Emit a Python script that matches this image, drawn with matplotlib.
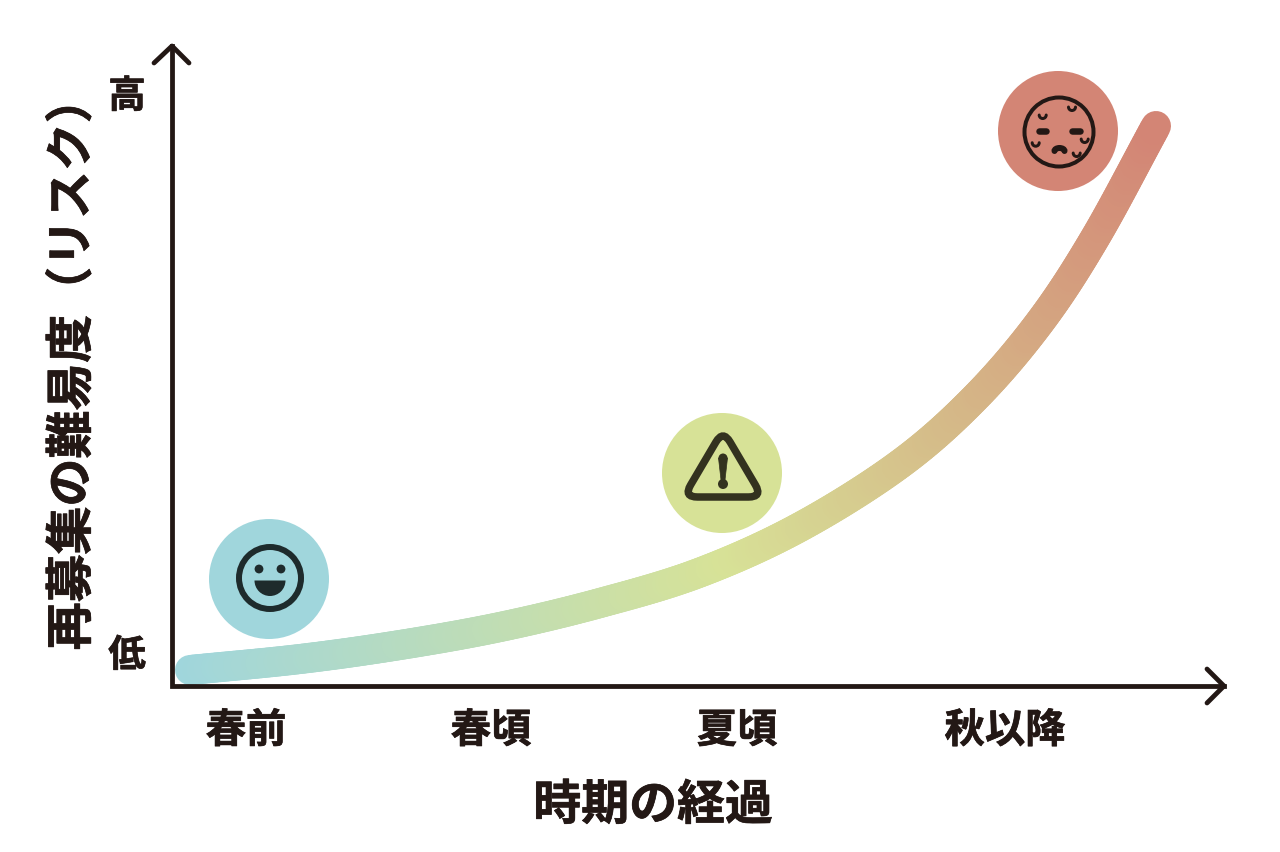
import matplotlib
matplotlib.use("Agg")
import matplotlib.pyplot as plt
import matplotlib.patheffects as pe
import numpy as np
from matplotlib.collections import LineCollection
from matplotlib.colors import LinearSegmentedColormap
from matplotlib.patches import Arc, Circle, PathPatch, Polygon, Wedge
from matplotlib.path import Path

plt.rcParams['font.family'] = ['Noto Sans CJK JP', 'DejaVu Sans']

# curve, in picture pixels
curve_x = [190, 300, 400, 500, 600, 700, 800, 900, 975, 1040, 1095, 1156]
curve_y = [670, 659, 645, 627, 603, 572.5, 527, 464, 398, 322, 238, 126]
curve_colors = ["#A0D6DC", "#D7E297", "#D38575"]

x_labels = ["春前", "春頃", "夏頃", "秋以降"]
x_label_pos = [246, 491, 737, 1005]
y_labels = ["低", "高"]
y_label_pos = [655, 96]
x_title = "時期の経過"
y_title = "再募集の難易度（リスク）"

INK = "#231815"


def px(w):
    return w * 72 / 100


def smooth(xv, yv, n=30):
    # catmull-rom through the read points, only so the band has no corners
    p = np.column_stack([xv, yv]).astype(float)
    p = np.vstack([2 * p[0] - p[1], p, 2 * p[-1] - p[-2]])
    out = []
    for i in range(1, len(p) - 2):
        t = np.linspace(0, 1, n, endpoint=False)[:, None]
        out.append(0.5 * (2 * p[i] + (p[i + 1] - p[i - 1]) * t
                          + (2 * p[i - 1] - 5 * p[i] + 4 * p[i + 1] - p[i + 2]) * t ** 2
                          + (3 * p[i] - p[i - 1] - 3 * p[i + 1] + p[i + 2]) * t ** 3))
    out.append(p[-2][None, :])
    return np.vstack(out)


def rounded_triangle(corners, cut):
    verts, codes = [], []
    c = np.array(corners, float)
    for i in range(3):
        v = c[i]
        prev = c[i - 1]
        nxt = c[(i + 1) % 3]
        a = v + (prev - v) / np.linalg.norm(prev - v) * cut
        b = v + (nxt - v) / np.linalg.norm(nxt - v) * cut
        verts += [a, v, b]
        codes += [Path.MOVETO if i == 0 else Path.LINETO, Path.CURVE3, Path.CURVE3]
    verts.append(verts[0])
    codes.append(Path.CLOSEPOLY)
    return Path(verts, codes)


fig = plt.figure(figsize=(12.8, 8.52), dpi=100)
ax = fig.add_axes([0, 0, 1, 1])
ax.set_xlim(0, 1280)
ax.set_ylim(852, 0)
ax.axis("off")

# gradient band
pts = smooth(curve_x, curve_y)
segs = np.stack([pts[:-1], pts[1:]], axis=1)
dist = np.r_[0, np.cumsum(np.hypot(*np.diff(pts, axis=0).T))]
frac = dist[:-1] / dist[-1]
cmap = LinearSegmentedColormap.from_list("risk", [(0, curve_colors[0]), (0.47, curve_colors[1]), (1, curve_colors[2])])
lc = LineCollection(segs, colors=cmap(frac), linewidths=px(30), capstyle="round", zorder=1)
ax.add_collection(lc)

# axes with arrows
ax.plot([172, 172, 1224], [46, 686, 686], color=INK, lw=px(4.8), solid_joinstyle="miter", zorder=3)
ax.plot([154, 172, 189], [63, 46, 63], color=INK, lw=px(4.8), solid_capstyle="round", zorder=3)
ax.plot([1207, 1224, 1207], [669, 686, 703], color=INK, lw=px(4.8), solid_capstyle="round", zorder=3)

# smile icon
SMILE = "#1E2B2C"
ax.add_patch(Circle((269, 579), 60, fc="#A0D6DC", ec="none"))
ax.add_patch(Circle((270, 578), 31, fc="none", ec=SMILE, lw=px(6)))
ax.add_patch(Circle((259, 569), 4.4, fc=SMILE, ec="none"))
ax.add_patch(Circle((281, 569), 4.4, fc=SMILE, ec="none"))
ax.add_patch(Wedge((270, 580.5), 15.5, 0, 180, fc=SMILE, ec="none"))

# warning icon
WARN = "#33321F"
ax.add_patch(Circle((722, 473), 60, fc="#D7E297", ec="none"))
ax.add_patch(PathPatch(rounded_triangle([(723, 430), (683.5, 497), (762.5, 497)], 14), fc="none", ec=WARN, lw=px(7.5)))
ax.add_patch(Polygon([(718.5, 458), (727.5, 458), (725, 480), (721, 480)], closed=True, fc=WARN, ec=WARN, lw=0.5))
ax.add_patch(Circle((723, 458), 4.5, fc=WARN, ec="none"))
ax.add_patch(Circle((723, 484), 5, fc=WARN, ec="none"))

# tired face icon
FACE = "#231815"
ax.add_patch(Circle((1058, 131), 60, fc="#D38575", ec="none"))
ax.add_patch(Circle((1059, 132), 34.5, fc="none", ec=FACE, lw=px(4)))
ax.plot([1039, 1046], [131, 131], color=FACE, lw=px(6.5), solid_capstyle="round")
ax.plot([1072, 1080], [131, 131], color=FACE, lw=px(6.5), solid_capstyle="round")
ax.add_patch(Arc((1059.5, 151), 10, 6, theta1=180, theta2=360, ec=FACE, lw=px(6), capstyle="round"))
for ux, uy in [(1042.7, 115), (1072, 107), (1035.7, 142.7), (1084.7, 139), (1076.7, 153)]:
    ax.add_patch(Arc((ux, uy), 7, 7, theta1=0, theta2=180, ec=FACE, lw=px(3), capstyle="round"))

# text
heavy = [pe.withStroke(linewidth=0.5, foreground=INK)]
for name, x in zip(x_labels, x_label_pos):
    ax.text(x, 731, name, fontsize=29, fontweight="bold", color=INK, ha="center", va="center", path_effects=heavy)
for name, y in zip(y_labels, y_label_pos):
    ax.text(127, y, name, fontsize=27, fontweight="bold", color=INK, ha="center", va="center", path_effects=heavy)
ax.text(653, 805, x_title, fontsize=34.5, fontweight="bold", color=INK, ha="center", va="center", path_effects=heavy)
ax.text(72, 363, y_title, fontsize=34.5, fontweight="bold", color=INK, ha="center", va="center", rotation=90, path_effects=heavy)

fig.savefig("out.png", dpi=100)
